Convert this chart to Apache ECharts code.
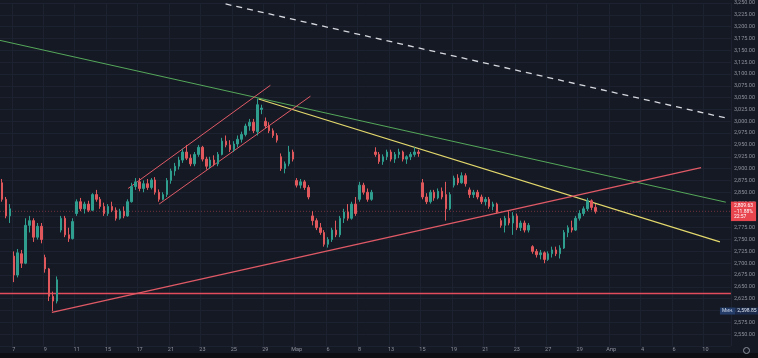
<!DOCTYPE html>
<html><head><meta charset="utf-8">
<script src="https://cdn.jsdelivr.net/npm/echarts@6/dist/echarts.min.js"></script>
<style>html,body{margin:0;padding:0;background:#151924;}#c{width:758px;height:358px;}</style>
</head><body><div id="c"></div>
<script>
// ---- data ----
const opens = [2870,2835,2800,2715,2675,2720,2700,2780,2790,2755, 2778,2712,2688,2630,2620,2770,2795,2760,2752,2805, 2830,2815,2825,2812,2845,2835,2820,2805,2820,2812, 2795,2810,2800,2830,2862,2872,2858,2868,2860,2876, 2850,2835,2845,2875,2895,2905,2918,2935,2922,2910, 2930,2945,2920,2905,2918,2910,2930,2958,2950,2940, 2952,2962,2972,2990,2998,2978,3025,3000,2990,2980, 2970,2925,2900,2910,2935,2875,2865,2872,2860,2800, 2790,2775,2765,2740,2750,2770,2760,2795,2808,2795, 2825,2835,2865,2850,2835,2935,2930,2915,2925,2935, 2920,2930,2935,2920,2925,2930,2935,2870,2840,2830, 2850,2838,2852,2845,2815,2865,2880,2870,2885,2855, 2845,2850,2840,2830,2835,2820,2825,2790,2780,2795, 2785,2800,2775,2785,2770,2735,2725,2718,2722,2708, 2720,2728,2720,2732,2765,2775,2770,2795,2805,2815, 2832,2818];
const highs = [2878,2840,2825,2725,2730,2728,2795,2800,2795,2785, 2785,2718,2690,2640,2672,2800,2800,2775,2795,2835, 2838,2830,2832,2848,2855,2840,2828,2825,2830,2818, 2815,2820,2835,2870,2880,2880,2875,2878,2880,2882, 2856,2850,2880,2900,2912,2925,2942,2950,2930,2935, 2950,2948,2925,2925,2928,2935,2965,2970,2960,2958, 2970,2978,2995,3005,3005,3048,3035,3008,2998,2985, 2975,2932,2915,2948,2940,2880,2878,2876,2865,2810, 2795,2785,2770,2755,2775,2790,2800,2815,2825,2830, 2840,2872,2870,2858,2855,2945,2935,2930,2940,2940, 2935,2942,2938,2928,2935,2945,2940,2878,2848,2855, 2855,2858,2860,2872,2850,2885,2888,2892,2890,2860, 2855,2855,2845,2840,2840,2830,2828,2795,2800,2810, 2808,2805,2790,2790,2785,2738,2730,2728,2725,2725, 2735,2735,2738,2770,2780,2790,2800,2812,2820,2838, 2835,2825];
const lows = [2830,2795,2785,2660,2670,2690,2698,2765,2745,2750, 2742,2680,2620,2598.85,2615,2765,2755,2745,2750,2800, 2810,2805,2808,2810,2830,2815,2800,2800,2808,2790, 2792,2795,2798,2828,2855,2852,2850,2855,2856,2845, 2830,2833,2840,2868,2885,2898,2912,2918,2905,2905, 2925,2915,2898,2900,2905,2905,2928,2945,2935,2935, 2945,2955,2968,2980,2975,2970,3015,2985,2975,2965, 2955,2895,2890,2905,2915,2860,2858,2855,2835,2780, 2770,2760,2735,2733,2745,2755,2755,2785,2790,2792, 2800,2830,2845,2830,2832,2925,2910,2908,2918,2915, 2912,2922,2915,2910,2918,2925,2925,2835,2825,2826, 2832,2835,2835,2790,2812,2860,2865,2868,2862,2838, 2838,2835,2825,2822,2815,2812,2805,2775,2765,2780, 2760,2770,2768,2765,2765,2720,2712,2708,2700,2705, 2712,2715,2710,2730,2755,2765,2768,2790,2800,2810, 2812,2805];
const closes = [2835,2800,2815,2675,2722,2700,2780,2790,2755,2778, 2750,2688,2630,2620,2665,2795,2760,2752,2788,2830, 2815,2825,2812,2845,2835,2820,2805,2820,2812,2795, 2810,2800,2830,2862,2872,2858,2868,2860,2876,2850, 2835,2845,2875,2895,2905,2918,2935,2922,2910,2930, 2945,2920,2905,2918,2910,2930,2958,2950,2940,2952, 2962,2972,2990,2998,2980,3035,3028,2990,2980,2970, 2960,2900,2910,2935,2920,2865,2872,2860,2840,2790, 2775,2765,2740,2750,2770,2760,2795,2808,2795,2825, 2805,2865,2850,2835,2850,2930,2915,2925,2935,2920, 2930,2935,2920,2925,2930,2935,2932,2840,2830,2850, 2838,2852,2840,2815,2845,2880,2870,2885,2868,2845, 2850,2840,2830,2835,2820,2825,2808,2780,2795,2785, 2800,2775,2785,2770,2780,2725,2718,2722,2708,2720, 2728,2720,2732,2765,2775,2770,2795,2805,2815,2832, 2818,2809.63];

const dateLabels = ['7','9','11','15','17','21','23','25','29','Мар','6','8','13','15','19','21','23','27','29','Апр','4','6','10'];
const barCount = 186;          // bars incl. empty future space
const firstLabelBar = 3;
const barsPerLabel = 8;

const lastPrice = 2809.63;
const lastChange = '−11.88%';
const countdown = '22:57';
const minPrice = 2598.85;
const minLabel = 'Мин.';
const supportLevel = 2636;

// drawing anchors: [bar index, price]
const channelUpper = [[32.1, 2858], [68.3, 3076]];
const channelLower = [[40.0, 2825], [78.5, 3053]];
const risingSupport = [[12.7, 2596], [177.9, 2902]];
const yellowTrend = [[65.3, 3047], [182.7, 2745]];
const greenTrend = [[-0.5, 3171], [184.2, 2829]];
const dashedTrend = [[56.9, 3248], [184.2, 3007]];

// ---- chart ----
function fmt(v){
  const s = v.toFixed(2); const p = s.split('.');
  return p[0].replace(/\B(?=(\d{3})+(?!\d))/g, ',') + '.' + p[1];
}
const categories = Array.from({length: barCount}, (_, i) => String(i));
const labelOf = {};
dateLabels.forEach((t, k) => { labelOf[firstLabelBar + barsPerLabel * k] = t; });
const candles = opens.map((o, i) => [o, closes[i], lows[i], highs[i]]);
const xFirst = -0.5, xLast = barCount - 0.5;

const UP = '#2f9e8f', DOWN = '#e0585b';
const RED_LINE = '#e05a66';
const gridColor = '#1d2230';
const txt = '#8e929c';
const FONT = 'Roboto, "Noto Sans", sans-serif';
const CLEAR = 'rgba(0,0,0,0)';

function lineSeries(name, pts, color, width, type, markLine) {
  const s = {
    name, type: 'line', xAxisIndex: 1, yAxisIndex: 0, data: pts,
    symbol: 'none', silent: true, animation: false, z: 3,
    lineStyle: { color, width, type: type || 'solid' }
  };
  if (markLine) s.markLine = markLine;
  return s;
}

const lastPriceMark = {
  symbol: 'none', silent: true, animation: false,
  lineStyle: { color: CLEAR, width: 1 },
  label: { show: true, position: 'end', distance: 0,
    formatter: fmt(lastPrice) + '\n' + lastChange + '\n' + countdown,
    backgroundColor: '#e8454f', color: '#ffffff', fontSize: 5, lineHeight: 5.5,
    padding: [2, 3, 1, 3], fontFamily: FONT },
  data: [{ yAxis: lastPrice }]
};
const minMark = {
  symbol: 'none', silent: true, animation: false,
  lineStyle: { color: CLEAR, width: 1 },
  label: { show: true, position: 'end', distance: -11,
    formatter: '{a|' + minLabel + '}{b|' + fmt(minPrice) + '}',
    fontFamily: FONT,
    rich: {
      a: { backgroundColor: '#233c68', color: '#c9d3e6', fontSize: 5, padding: [1, 2, 1, 2] },
      b: { backgroundColor: '#1b2a4a', color: '#dfe6f3', fontSize: 5, padding: [1, 2, 1, 2] }
    } },
  data: [{ yAxis: minPrice }]
};

const chart = echarts.init(document.getElementById('c'));
chart.setOption({
  backgroundColor: '#151924',
  animation: false,
  grid: { left: -2, right: 25, top: 0, bottom: 12 },
  xAxis: [
    {
      type: 'category', data: categories, boundaryGap: true,
      axisLine: { show: false }, axisTick: { show: false },
      axisLabel: {
        interval: (i) => labelOf[i] !== undefined,
        formatter: (v) => labelOf[+v] || '',
        color: txt, fontSize: 5.5, margin: 1, fontFamily: FONT
      },
      splitLine: { show: true, interval: (i) => labelOf[i] !== undefined, lineStyle: { color: gridColor, width: 1 } }
    },
    { type: 'value', min: xFirst, max: xLast, show: false }
  ],
  yAxis: {
    type: 'value', position: 'right', min: 2525, max: 3250, interval: 25,
    axisLine: { show: false }, axisTick: { show: false },
    axisLabel: { formatter: fmt, color: txt, fontSize: 5.5, margin: 3, showMinLabel: false, fontFamily: FONT },
    splitLine: { show: true, lineStyle: { color: gridColor, width: 1 } }
  },
  series: [
    lineSeries('priceLine', [[xFirst, lastPrice], [xLast, lastPrice]], 'rgba(225,80,90,0.45)', 1, [1, 2], lastPriceMark),
    lineSeries('support', [[xFirst, supportLevel], [xLast, supportLevel]], '#e34d5b', 1.4, 'solid', minMark),
    {
      type: 'candlestick', xAxisIndex: 0, yAxisIndex: 0, data: candles,
      barWidth: 2, z: 4,
      itemStyle: { color: UP, color0: DOWN, borderColor: UP, borderColor0: DOWN, borderWidth: 1 }
    },
    lineSeries('dashed', dashedTrend, '#d6d8de', 1.3, [6, 5]),
    lineSeries('green', greenTrend, '#55a85a', 1),
    lineSeries('yellow', yellowTrend, '#e3d86c', 1.2),
    lineSeries('rising', risingSupport, RED_LINE, 1.2),
    lineSeries('chanUp', channelUpper, '#df5b67', 1),
    lineSeries('chanLo', channelLower, '#df5b67', 1)
  ],
  graphic: [
    { type: 'rect', left: 0, top: 353, shape: { width: 758, height: 5 }, style: { fill: '#0c0e13' }, silent: true },
    { type: 'circle', left: 741, top: 345, shape: { r: 3 }, style: { fill: 'none', stroke: '#8e929c', lineWidth: 1 }, silent: true }
  ]
});
</script>
</body></html>
